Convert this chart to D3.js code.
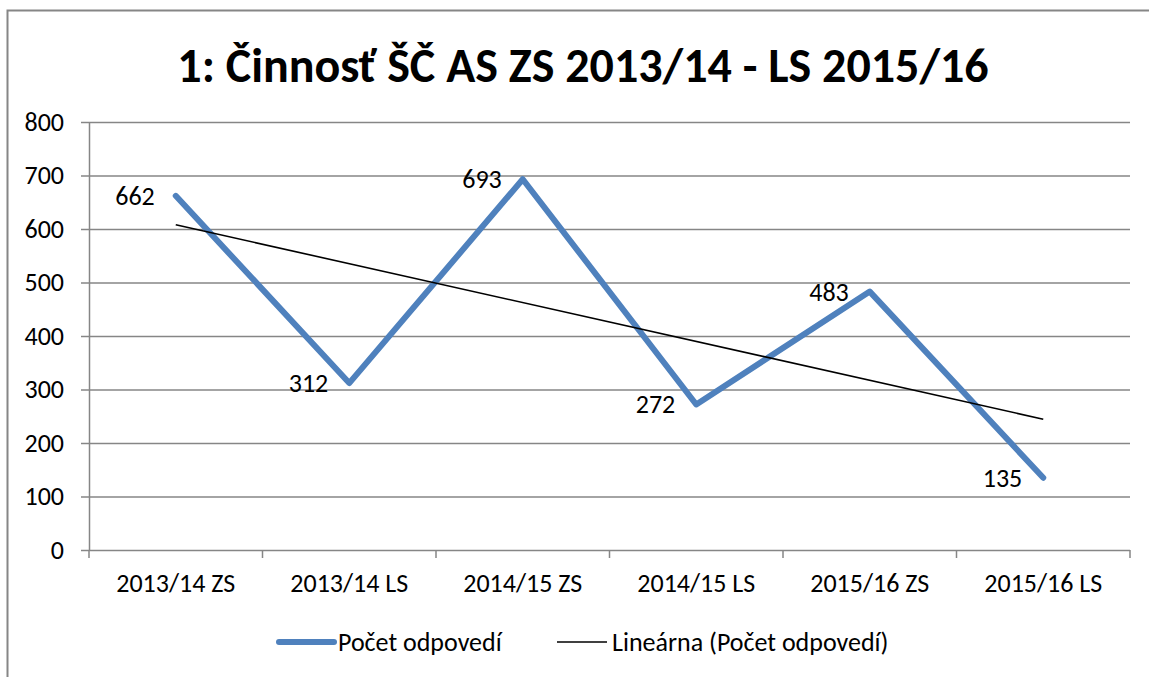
<!DOCTYPE html>
<html>
<head>
<meta charset="utf-8">
<script src="https://cdn.jsdelivr.net/npm/d3@7"></script>
<style>
  body { margin: 0; background: #fff; }
  svg { font-family: Carlito, Calibri, Lato, sans-serif; }
</style>
</head>
<body>
<svg></svg>
<script>
var categories = ["2013/14 ZS", "2013/14 LS", "2014/15 ZS", "2014/15 LS", "2015/16 ZS", "2015/16 LS"];
var answers = [662, 312, 693, 272, 483, 135];
var yTicks = [0, 100, 200, 300, 400, 500, 600, 700, 800];
var title = "1: Činnosť ŠČ AS ZS 2013/14 - LS 2015/16";
var seriesName = "Počet odpovedí";
var trendName = "Lineárna (Počet odpovedí)";

var width = 1149;
var height = 677;
var plotLeft = 89, plotRight = 1130, plotTop = 122, plotBottom = 550;

var svg = d3.select("svg").attr("width", width).attr("height", height);

// outer chart border (right/bottom run off the picture)
svg.append("rect")
  .attr("x", 7.5).attr("y", 10.5)
  .attr("width", 1200).attr("height", 800)
  .attr("fill", "none").attr("stroke", "#868686").attr("stroke-width", 2);

svg.append("text")
  .attr("x", 583).attr("y", 82)
  .attr("text-anchor", "middle")
  .style("font-size", "48px").style("font-weight", "bold")
  .text(title);

var xScale = d3.scaleBand().domain(categories).range([plotLeft, plotRight]);
var yScale = d3.scaleLinear().domain([0, 800]).range([plotBottom, plotTop]);

/* gridlines */
svg.append("g")
  .selectAll("line")
  .data(yTicks)
  .enter()
  .append("line")
  .attr("x1", plotLeft - 8).attr("x2", plotRight)
  .attr("y1", (d) => yScale(d) + 0.5).attr("y2", (d) => yScale(d) + 0.5)
  .attr("stroke", "#868686").attr("stroke-width", 1.5);

/* y axis */
var yAxis = d3.axisLeft(yScale).tickValues(yTicks).tickSize(0).tickPadding(25);
var yG = svg.append("g").attr("transform", "translate(" + plotLeft + ",0)").call(yAxis)
  .attr("font-family", null).attr("font-size", null);
yG.select(".domain").attr("stroke", "#868686").attr("stroke-width", 1.5);
yG.selectAll("text").style("font-size", "26px").attr("fill", "#000");

/* x axis */
var xTickPos = [plotLeft].concat(categories.map((c) => xScale(c) + xScale.bandwidth()));
svg.append("g")
  .selectAll("line")
  .data(xTickPos)
  .enter()
  .append("line")
  .attr("x1", (d) => d).attr("x2", (d) => d)
  .attr("y1", plotBottom).attr("y2", plotBottom + 8)
  .attr("stroke", "#868686").attr("stroke-width", 1.5);
var xAxis = d3.axisBottom(xScale).tickSize(0).tickPadding(24);
var xG = svg.append("g").attr("transform", "translate(0," + plotBottom + ")").call(xAxis)
  .attr("font-family", null).attr("font-size", null);
xG.select(".domain").remove();
xG.selectAll("text").style("font-size", "26px").attr("fill", "#000");

/* trend line: least squares fit of the series */
var n = answers.length;
var xs = answers.map((d, i) => i + 1);
var mx = d3.mean(xs), my = d3.mean(answers);
var slope = d3.sum(xs, (x, i) => (x - mx) * (answers[i] - my)) / d3.sum(xs, (x) => (x - mx) * (x - mx));
var icpt = my - slope * mx;
var trend = [icpt + slope * 1, icpt + slope * n];

var cx = (i) => xScale(categories[i]) + xScale.bandwidth() / 2;

var line = d3.line()
  .x((d, i) => cx(i))
  .y((d) => yScale(d));

svg.append("path")
  .datum(answers)
  .attr("d", line)
  .attr("fill", "none")
  .attr("stroke", "#4F81BD")
  .attr("stroke-width", 6)
  .attr("stroke-linejoin", "round")
  .attr("stroke-linecap", "round");

svg.append("line")
  .attr("x1", cx(0)).attr("y1", yScale(trend[0]))
  .attr("x2", cx(n - 1)).attr("y2", yScale(trend[1]))
  .attr("stroke", "#000").attr("stroke-width", 1.6);

/* data labels */
svg.append("g")
  .selectAll("text")
  .data(answers)
  .enter()
  .append("text")
  .attr("x", (d, i) => cx(i) - 21)
  .attr("y", (d) => yScale(d) + 9)
  .attr("text-anchor", "end")
  .style("font-size", "26px")
  .text((d) => d);

/* legend */
var lg = svg.append("g").attr("transform", "translate(0,642)");
lg.append("line").attr("x1", 279).attr("x2", 334).attr("y1", 0).attr("y2", 0)
  .attr("stroke", "#4F81BD").attr("stroke-width", 6).attr("stroke-linecap", "round");
lg.append("text").attr("x", 338).attr("y", 9).style("font-size", "26px").text(seriesName);
lg.append("line").attr("x1", 557).attr("x2", 607).attr("y1", 0).attr("y2", 0)
  .attr("stroke", "#000").attr("stroke-width", 1.6);
lg.append("text").attr("x", 612).attr("y", 9).style("font-size", "26px").text(trendName);
</script>
</body>
</html>
